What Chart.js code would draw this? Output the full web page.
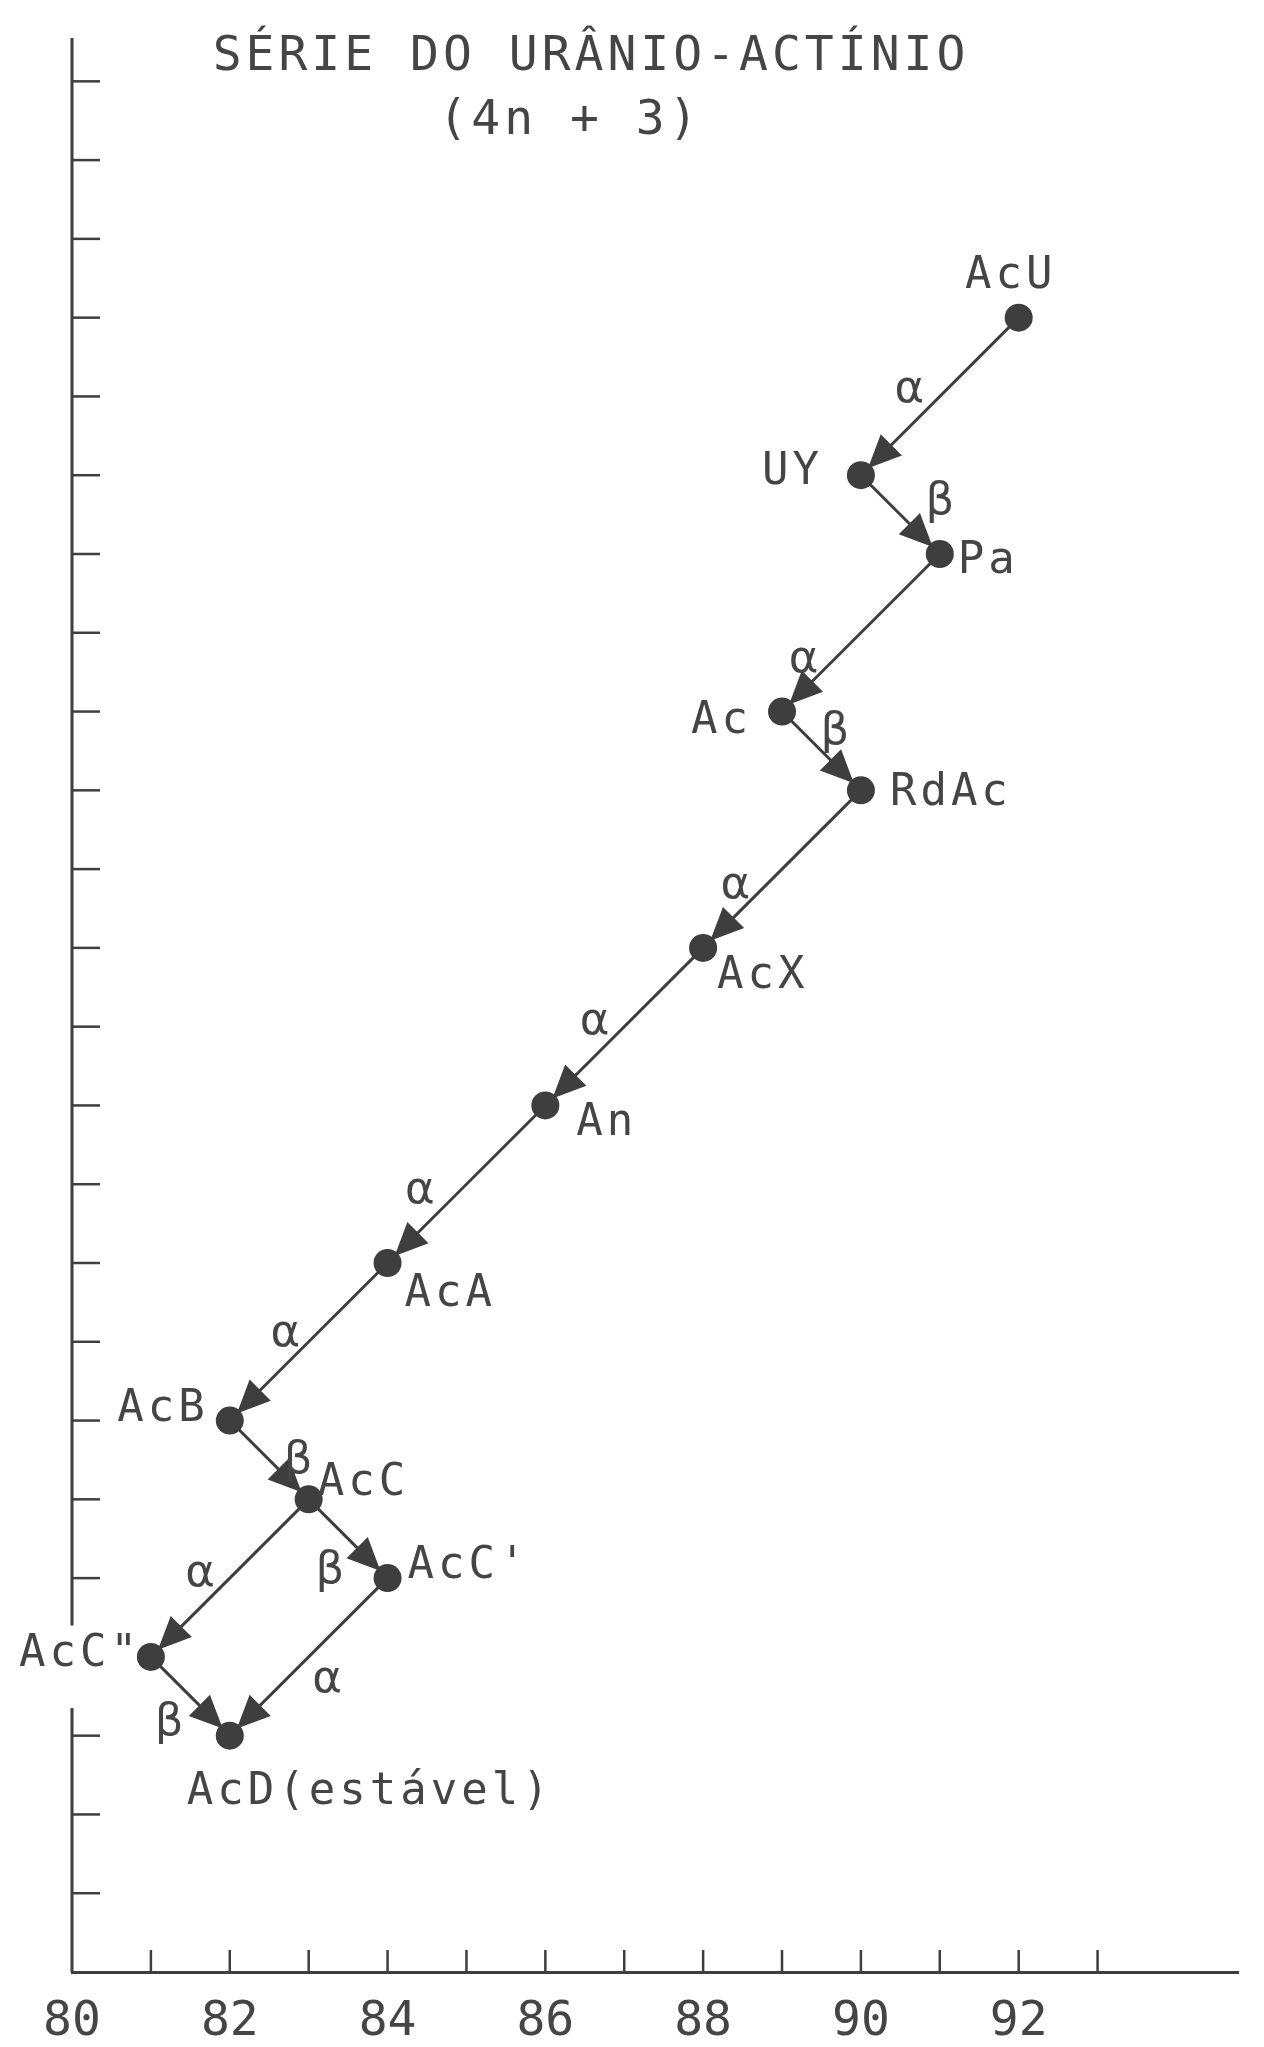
<!DOCTYPE html>
<html>
<head>
<meta charset="utf-8">
<title>Série do Urânio-Actínio (4n + 3)</title>
<script src="https://cdn.jsdelivr.net/npm/chart.js@4"></script>
<style>
  html, body { margin: 0; padding: 0; background: #fff; }
  #chart { display: block; }
</style>
</head>
<body>
<canvas id="chart" width="1264" height="2047"></canvas>
<script>
const titleLines = ["SÉRIE DO URÂNIO-ACTÍNIO", "(4n + 3)"];

// nuclides of the actinium series: atomic number (x) and neutron number (y)
const nuclides = ["AcU", "UY", "Pa", "Ac", "RdAc", "AcX", "An", "AcA", "AcB", "AcC", "AcC'", 'AcC"', "AcD(estável)"];
const atomicNumber = [92, 90, 91, 89, 90, 88, 86, 84, 82, 83, 84, 81, 82];
const neutronNumber = [143, 141, 140, 138, 137, 135, 133, 131, 129, 128, 127, 126, 125];

// decays: parent index -> daughter index
const decayFrom = [0, 1, 2, 3, 4, 5, 6, 7, 8, 9, 9, 10, 11];
const decayTo = [1, 2, 3, 4, 5, 6, 7, 8, 9, 10, 11, 12, 12];
const decayType = ["α", "β", "α", "β", "α", "α", "α", "α", "β", "β", "α", "α", "β"];

const xTickLabels = [80, 82, 84, 86, 88, 90, 92];

// styling / placement
const ink = "#3e3e3e";
const textInk = "#454545";
const mono = "'DejaVu Sans Mono', 'Liberation Mono', monospace";

// name label offset from dot (px): dx, dy (caps centre), align
const labelPlacement = [
  [-8, -46, "center"],
  [-38, -7, "right"],
  [18, 3, "left"],
  [-30, 5, "right"],
  [29, -1, "left"],
  [14, 24, "left"],
  [31, 14, "left"],
  [17, 27, "left"],
  [-21, -16, "right"],
  [9, -20, "left"],
  [20, -16, "left"],
  [-10, -7, "right"],
  [-43, 52, "left"],
];
// greek letter: distance along arrow from its midpoint, distance to the upper side
const greekPlacement = [
  [17, 26], [19, 37], [60, 21], [-4, 23], [45, 21], [18, 24], [38, 28],
  [11, 22], [21, 20], [10, -36], [18, 24], [3, -29], [4, -34],
];
const yAxisGap = [125.35, 126.4];

const points = atomicNumber.map((z, i) => ({ x: z, y: neutronNumber[i] }));

const decayLines = decayFrom.map((f, k) => ({
  data: [points[f], points[decayTo[k]]],
  showLine: true,
  borderColor: ink,
  borderWidth: 3,
  pointRadius: 0,
  fill: false,
}));

const seriesPlugin = {
  id: "series",
  beforeDatasetsDraw(chart) {
    const { ctx, chartArea, scales } = chart;
    const x = scales.x, y = scales.y;
    ctx.save();
    ctx.strokeStyle = ink;
    ctx.lineWidth = 3;
    ctx.lineCap = "butt";
    // y axis, broken behind the AcC" label
    const ax = chartArea.left;
    ctx.beginPath();
    ctx.moveTo(ax, chartArea.top);
    ctx.lineTo(ax, y.getPixelForValue(yAxisGap[1]));
    ctx.moveTo(ax, y.getPixelForValue(yAxisGap[0]));
    ctx.lineTo(ax, chartArea.bottom);
    ctx.stroke();
    // y tick marks, drawn inwards
    ctx.lineWidth = 2.5;
    y.ticks.forEach((t) => {
      const v = t.value;
      if (!Number.isInteger(v) || v <= y.min) return;
      if (v > yAxisGap[0] && v < yAxisGap[1]) return;
      const py = y.getPixelForValue(v);
      ctx.beginPath();
      ctx.moveTo(ax, py);
      ctx.lineTo(ax + 28, py);
      ctx.stroke();
    });
    // x tick marks, drawn inwards
    x.ticks.forEach((t) => {
      const v = t.value;
      if (!Number.isInteger(v) || v <= x.min || v > 93) return;
      const px = x.getPixelForValue(v);
      ctx.beginPath();
      ctx.moveTo(px, chartArea.bottom);
      ctx.lineTo(px, chartArea.bottom - 22);
      ctx.stroke();
    });
    ctx.restore();
  },
  afterDatasetsDraw(chart) {
    const { ctx, scales } = chart;
    const px = (i) => [scales.x.getPixelForValue(atomicNumber[i]), scales.y.getPixelForValue(neutronNumber[i])];
    ctx.save();
    // arrowheads and decay letters
    decayFrom.forEach((f, k) => {
      const [x1, y1] = px(f);
      const [x2, y2] = px(decayTo[k]);
      const len = Math.hypot(x2 - x1, y2 - y1);
      const dx = (x2 - x1) / len, dy = (y2 - y1) / len;
      const tipX = x2 - dx * 10, tipY = y2 - dy * 10;
      const bx = tipX - dx * 33, by = tipY - dy * 33;
      ctx.fillStyle = ink;
      ctx.beginPath();
      ctx.moveTo(tipX, tipY);
      ctx.lineTo(bx - dy * 15, by + dx * 15);
      ctx.lineTo(bx + dy * 15, by - dx * 15);
      ctx.closePath();
      ctx.fill();

      let nx = -dy, ny = dx;
      if (ny > 0) { nx = -nx; ny = -ny; }
      const [along, side] = greekPlacement[k];
      const cx = (x1 + x2) / 2 + dx * along + nx * side;
      const cy = (y1 + y2) / 2 + dy * along + ny * side;
      ctx.fillStyle = textInk;
      ctx.font = "45px 'DejaVu Sans', sans-serif";
      ctx.textAlign = "center";
      ctx.textBaseline = "alphabetic";
      ctx.fillText(decayType[k], cx, cy + 12);
    });
    // nuclide names
    ctx.font = "44px " + mono;
    ctx.letterSpacing = "4px";
    ctx.fillStyle = textInk;
    ctx.textBaseline = "alphabetic";
    nuclides.forEach((name, i) => {
      const [x0, y0] = px(i);
      const [ox, oy, align] = labelPlacement[i];
      ctx.textAlign = align;
      ctx.fillText(name, x0 + ox, y0 + oy + 16);
    });
    // title
    ctx.font = "48px " + mono;
    ctx.textAlign = "center";
    ctx.fillText(titleLines[0], 591, 70);
    ctx.fillText(titleLines[1], 570, 134);
    ctx.restore();
  },
};

new Chart(document.getElementById("chart"), {
  type: "scatter",
  data: {
    datasets: [
      {
        label: "nuclídeos",
        data: points,
        pointRadius: 14,
        pointBackgroundColor: ink,
        pointBorderWidth: 0,
      },
      ...decayLines,
    ],
  },
  options: {
    responsive: false,
    animation: false,
    events: [],
    layout: { padding: { left: 72, right: 26, top: 38, bottom: 0 } },
    plugins: {
      legend: { display: false },
      tooltip: { enabled: false },
      title: { display: false },
    },
    scales: {
      x: {
        type: "linear",
        position: "bottom",
        min: 80,
        max: 94.78,
        afterFit: (s) => { s.height = 75; },
        grid: { display: false, drawTicks: false },
        border: { display: true, color: ink, width: 3 },
        ticks: {
          stepSize: 1,
          autoSkip: false,
          maxRotation: 0,
          padding: 22,
          color: textInk,
          font: { family: mono, size: 48 },
          callback: (v) => (xTickLabels.includes(v) ? String(v) : ""),
        },
      },
      y: {
        type: "linear",
        min: 122,
        max: 146.55,
        afterFit: (s) => { s.width = 0; },
        grid: { display: false, drawTicks: false },
        border: { display: false },
        ticks: { display: false, stepSize: 1 },
      },
    },
  },
  plugins: [seriesPlugin],
});
</script>
</body>
</html>
